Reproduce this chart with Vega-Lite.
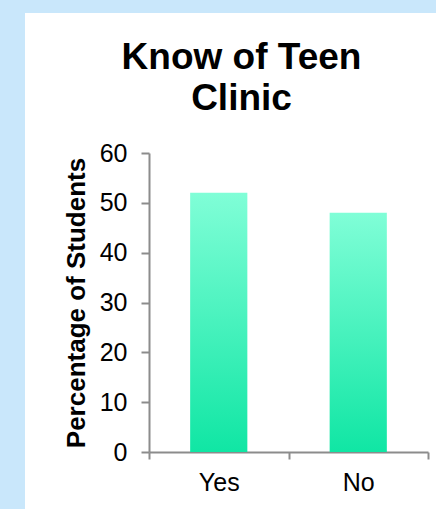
{
  "$schema": "https://vega.github.io/schema/vega-lite/v6.json",
  "width": 411,
  "height": 496,
  "autosize": {"type": "none"},
  "padding": {"left": 25, "top": 13, "right": 0, "bottom": 0},
  "background": "#c9e7fb",
  "view": {"fill": "white", "stroke": null},
  "title": {
    "text": ["Know of Teen", "Clinic"],
    "font": "Liberation Sans",
    "fontSize": 37,
    "fontWeight": "bold",
    "color": "black",
    "lineHeight": 41,
    "offset": -105,
    "dx": 11
  },
  "data": {
    "values": [
      {"answer": "Yes", "percent": 52},
      {"answer": "No", "percent": 48}
    ]
  },
  "mark": {
    "type": "bar",
    "width": {"band": 0.41},
    "color": {
      "gradient": "linear",
      "x1": 0, "y1": 0, "x2": 0, "y2": 1,
      "stops": [
        {"offset": 0, "color": "#80fed7"},
        {"offset": 1, "color": "#10e6a4"}
      ]
    }
  },
  "encoding": {
    "x": {
      "field": "answer",
      "type": "nominal",
      "sort": ["Yes", "No"],
      "scale": {"range": [124, 403], "paddingInner": 0, "paddingOuter": 0},
      "axis": {
        "title": null,
        "offset": -57,
        "tickBand": "extent",
        "labelAngle": 0,
        "labelFont": "Liberation Sans",
        "labelFontSize": 25,
        "labelColor": "black",
        "labelPadding": 11,
        "tickSize": 7,
        "tickWidth": 2,
        "tickColor": "#8c8c8c",
        "domainColor": "#8c8c8c",
        "domainWidth": 2
      }
    },
    "y": {
      "field": "percent",
      "type": "quantitative",
      "scale": {"domain": [0, 60], "range": [439, 140], "nice": false},
      "axis": {
        "title": "Percentage of Students",
        "offset": -124,
        "values": [0, 10, 20, 30, 40, 50, 60],
        "grid": false,
        "labelFont": "Liberation Sans",
        "labelFontSize": 25,
        "labelColor": "black",
        "labelPadding": 14,
        "tickSize": 8,
        "tickWidth": 2,
        "tickColor": "#8c8c8c",
        "domainColor": "#8c8c8c",
        "domainWidth": 2,
        "titleFont": "Liberation Sans",
        "titleFontSize": 26,
        "titleFontWeight": "bold",
        "titleColor": "black",
        "titlePadding": 10
      }
    }
  }
}
